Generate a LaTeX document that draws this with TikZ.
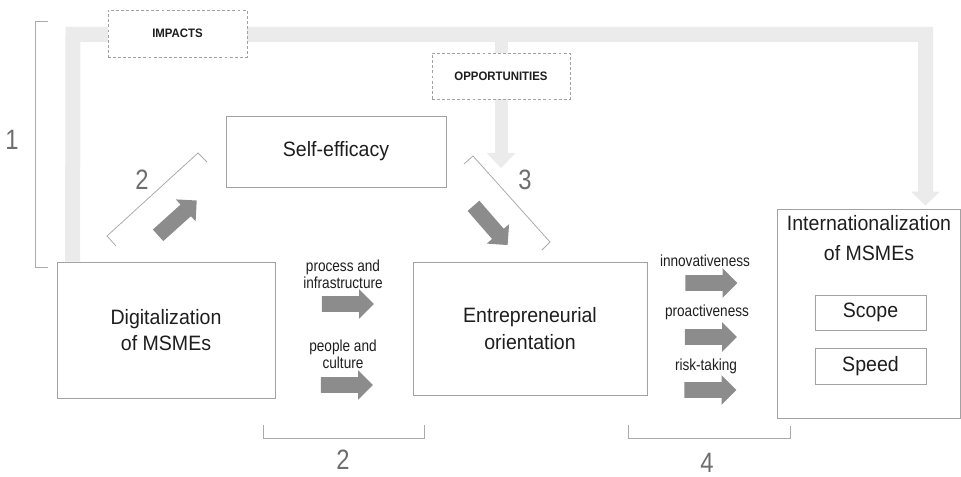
\documentclass[tikz,border=0pt]{standalone}
\usepackage{fontspec}
\setmainfont{Liberation Sans}
\newfontfamily\bigfont[FakeStretch=0.94]{Liberation Sans}
\newfontfamily\smallfont[FakeStretch=0.85]{Liberation Sans}
\newfontfamily\tagfont[FakeStretch=0.93]{Liberation Sans}
\usetikzlibrary{arrows.meta,shapes.arrows}

\definecolor{boxline}{HTML}{A2A2A2}
\definecolor{bandgray}{HTML}{EBEBEB}
\definecolor{fatgray}{HTML}{8C8C8C}
\definecolor{bracketgray}{HTML}{ABABAB}
\definecolor{numgray}{HTML}{6E6E6E}
\definecolor{ink}{HTML}{1E1E1E}

\pgfdeclarelayer{background}
\pgfsetlayers{background,main}

\tikzset{
  mainbox/.style={draw=boxline, line width=0.65pt, fill=white, text=ink,
    align=center, inner sep=0pt, font=\bigfont\fontsize{15.6}{20}\selectfont},
  innerbox/.style={mainbox},
  titletext/.style={text=ink, align=center, inner sep=0pt,
    font=\bigfont\fontsize{15.6}{22.5}\selectfont},
  tagbox/.style={draw=boxline, line width=0.55pt, dash pattern=on 2.2pt off 1.6pt,
    fill=white, text=ink, inner sep=0pt,
    font=\tagfont\bfseries\fontsize{9.2}{11}\selectfont},
  smalllabel/.style={text=ink, align=center, inner sep=0pt,
    font=\smallfont\fontsize{12}{12.75}\selectfont},
  numlabel/.style={text=numgray, inner sep=0pt,
    font=\smallfont\fontsize{21}{24}\selectfont},
  bracket/.style={draw=bracketgray, line width=0.6pt},
  fatarrow/.style={single arrow, fill=fatgray, draw=none,
    minimum height=39pt, minimum width=21.75pt,
    single arrow head extend=5.25pt, inner xsep=0pt, inner ysep=5.625pt},
  band/.style={draw=bandgray, line width=11.25pt, line join=miter,
    -{Triangle[width=21pt,length=10.5pt]}},
  branch/.style={draw=bandgray, line width=9.75pt,
    -{Triangle[width=21pt,length=11.25pt]}},
}

\begin{document}
\begin{tikzpicture}[x=0.75pt,y=-0.75pt]
\useasboundingbox (0,0) rectangle (961,477);

% main concept boxes
\node[mainbox, minimum width=163.5pt, minimum height=102pt] (dig) at (166,330) {Digitalization\\of MSMEs};
\node[mainbox, minimum width=175.5pt, minimum height=99.75pt] (eo) at (530,328.5) {Entrepreneurial\\orientation};
\node[mainbox, minimum width=165pt, minimum height=53.25pt] (self) at (336,151.5) {Self-efficacy};
\node[mainbox, minimum width=137.25pt, minimum height=156.75pt] (intl) at (868.5,313.5) {};
\node[titletext] (intlt) at (869,238) {Internationalization\\of MSMEs};
\node[innerbox, minimum width=83.25pt, minimum height=26.25pt] (scope) at (870.5,312.5) {Scope};
\node[innerbox, minimum width=83.25pt, minimum height=27pt] (speed) at (870.5,366) {Speed};

% light feedback band from digitalization to internationalization
\coordinate (bandL) at (73,34.5);
\coordinate (bandR) at (925.5,34.5);
\coordinate (oppIn) at (501,168);
\begin{pgfonlayer}{background}
\draw[band] ([xshift=12pt]dig.north west) -- (bandL) -- (bandR) -- ([yshift=2.25pt]intl.north -| bandR);
\end{pgfonlayer}

% dashed tags on the band
\node[tagbox, minimum width=104.25pt, minimum height=35.25pt] (imp) at (177.5,33.5) {IMPACTS};
\node[tagbox, minimum width=103.5pt, minimum height=34.5pt] (opp) at (501,76) {OPPORTUNITIES};
\begin{pgfonlayer}{background}
\draw[branch] (opp.north |- bandL) -- (oppIn);
\end{pgfonlayer}

% fat arrows
\node[fatarrow] (api) at (344,304) {};
\node[fatarrow] (apc) at (343,385) {};
\node[fatarrow] (ain) at (707.5,283) {};
\node[fatarrow] (apr) at (707,337) {};
\node[fatarrow] (ari) at (706.5,390) {};
\node[fatarrow, rotate=42] (aself) at (174.5,220.5) {};
\node[fatarrow, rotate=-49] (aeo) at (488,222.5) {};

% arrow labels
\node[smalllabel] (lpi) at (343,274.5) {process and\\infrastructure};
\node[smalllabel] (lpc) at (343,354.5) {people and\\culture};
\node[smalllabel] (lin) at (705,261) {innovativeness};
\node[smalllabel] (lpr) at (707,312) {proactiveness};
\node[smalllabel] (lri) at (706,366) {risk-taking};

% numbered brackets
\draw[bracket] (48,21) -- (35,21) -- (35,267) -- (48,267);
\node[numlabel] (n1) at (12,140) {1};
\draw[bracket] (116,246) -- (107,236) -- (198,153) -- (207,162);
\node[numlabel] (n2a) at (142,180) {2};
\draw[bracket] (464,164) -- (473,156) -- (550,242) -- (542,250);
\node[numlabel] (n3) at (525,180) {3};
\draw[bracket] (263,425) -- (263,438) -- (424,438) -- (424,425);
\node[numlabel] (n2b) at (343,460) {2};
\draw[bracket] (628,425) -- (628,438) -- (790,438) -- (790,426);
\node[numlabel] (n4) at (707,463) {4};
\end{tikzpicture}
\end{document}
